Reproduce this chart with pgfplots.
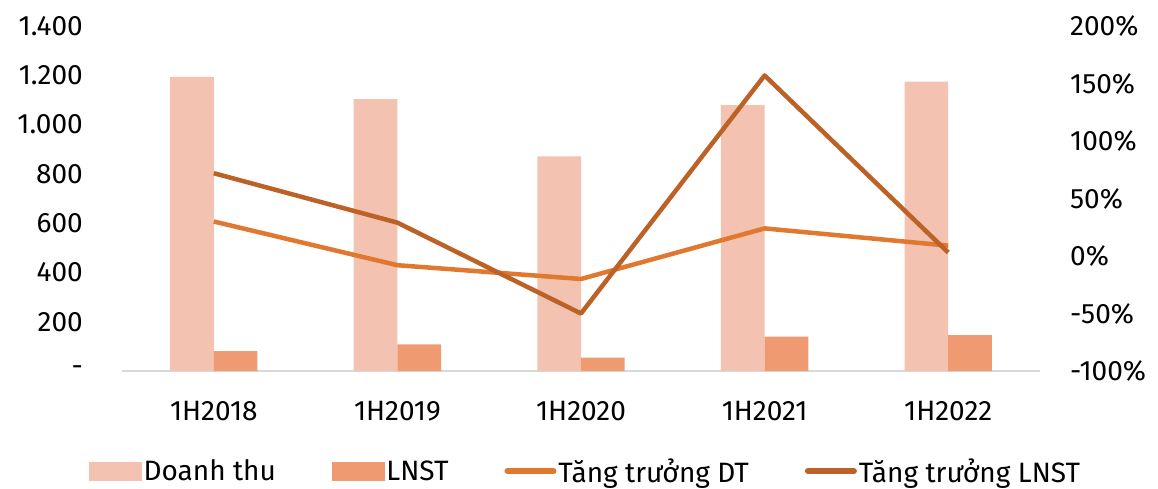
\documentclass[border=0pt]{standalone}
\usepackage{fontspec}
\setmainfont{Fira Sans}
\usepackage{pgfplots}
\pgfplotsset{compat=1.18}
\definecolor{dtbar}{HTML}{F4C2B1}
\definecolor{lnbar}{HTML}{F09A72}
\definecolor{dtline}{HTML}{E07830}
\definecolor{lnline}{HTML}{BC6226}
\definecolor{axgray}{HTML}{D9D9D9}
\newcommand{\bigfont}{\fontsize{28bp}{34bp}\selectfont}

\begin{document}
\begin{tikzpicture}
\pgfplotsset{
  base/.style={
    scale only axis, width=918bp, height=345bp,
    xmin=-0.5, xmax=4.5,
    xtick={0,...,4},
    major tick length=0pt,
    tick label style={font=\bigfont},
  }
}
\begin{axis}[base,
  ymin=0, ymax=1400, ytick={0,200,...,1400},
  yticklabels={-,200,400,600,800,1.000,1.200,1.400},
  axis x line*=bottom, axis y line*=left,
  x axis line style={draw=axgray, line width=1.5bp},
  y axis line style={draw=none},
  xticklabels={1H2018,1H2019,1H2020,1H2021,1H2022},
  xticklabel style={inner sep=0pt, anchor=north, yshift=-30bp},
  yticklabel style={inner sep=0pt, anchor=east, xshift=-39bp},
  bar width=0.238,
]
\coordinate (sw) at (rel axis cs:0,0);
\coordinate (ne) at (rel axis cs:1,1);
% Doanh thu
\addplot[ybar, fill=dtbar, draw=none, bar shift=-0.119] coordinates {
  (0,1194) (1,1103) (2,871) (3,1079) (4,1174)
};
% LNST
\addplot[ybar, fill=lnbar, draw=none, bar shift=0.119] coordinates {
  (0,81) (1,108) (2,54) (3,139) (4,146)
};
\end{axis}

\begin{axis}[base,
  ymin=-100, ymax=200, ytick={-100,-50,...,200},
  yticklabels={-100\%,-50\%,0\%,50\%,100\%,150\%,200\%},
  axis y line*=right, axis x line=none,
  y axis line style={draw=none},
  yticklabel style={inner sep=0pt, anchor=west, xshift=30bp},
  legend columns=4,
  legend style={at={(0.505,-0.29)}, anchor=center, draw=none, fill=none,
    font=\bigfont, /tikz/every even column/.append style={column sep=54bp}},
]
\addlegendimage{legend image code/.code={\fill[dtbar] (0bp,-9bp) rectangle (52bp,9bp);}}
\addlegendentry{Doanh thu}
\addlegendimage{legend image code/.code={\fill[lnbar] (0bp,-9bp) rectangle (52bp,9bp);}}
\addlegendentry{LNST}
\addplot[dtline, line width=4.5bp, line join=round,
  legend image code/.code={\draw[dtline, line width=6bp, line cap=round] (3bp,0bp) -- (49bp,0bp);}]
  coordinates {(0,30) (1,-8) (2,-20) (3,24) (4,9)};
\addlegendentry{Tăng trưởng DT}
\addplot[lnline, line width=4.5bp, line join=round,
  legend image code/.code={\draw[lnline, line width=6bp, line cap=round] (3bp,0bp) -- (49bp,0bp);}]
  coordinates {(0,72) (1,29) (2,-50) (3,157) (4,3)};
\addlegendentry{Tăng trưởng LNST}
\end{axis}
\pgfresetboundingbox
\path ([shift={(-122bp,-118bp)}]sw) rectangle ([shift={(118bp,26bp)}]ne);
\end{tikzpicture}
\end{document}
